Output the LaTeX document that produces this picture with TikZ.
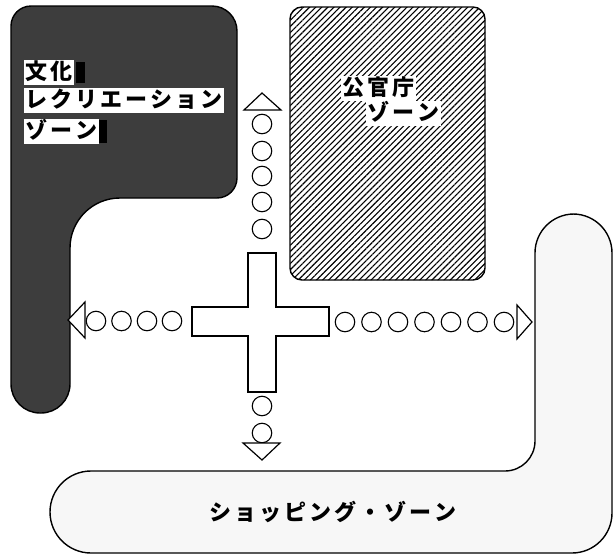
\documentclass[tikz,border=0pt]{standalone}
\usepackage{fontspec}
\newfontfamily\jp{Noto Sans CJK JP}
\usetikzlibrary{patterns.meta}
\newdimen\spk
\spk=3pt
\def\spc#1{\spaux#1\relax\unkern}
\def\spaux#1{\ifx#1\relax\else#1\kern\spk\expandafter\spaux\fi}
\tikzset{
  outl/.style={draw=black,line width=1.4pt},
  ring/.style={circle,draw=black,line width=1.1pt,minimum size=19.5pt,inner sep=0pt},
  tri/.style={draw=black,line width=1.2pt,fill=white,line join=miter},
  jpfont/.style={font=\jp\bfseries\fontsize{22}{22}\selectfont},
  lab/.style={jpfont,fill=white,inner xsep=1.5pt,inner ysep=1.5pt,text height=18pt,text depth=4pt,anchor=west},
}
\begin{document}
\begin{tikzpicture}[x=1pt,y=-1pt]
\useasboundingbox (0,0) rectangle (614,560);
% shopping zone
\path[outl,fill=black!3] (300,553) [rounded corners=41] -- (50,553) [rounded corners=41] -- (50,471) [rounded corners=30] -- (535,471) [rounded corners=39] -- (535,214) [rounded corners=39] -- (612,214) [rounded corners=40] -- (612,553) [sharp corners] -- cycle;
\node[jpfont] (shop) at (333,512) {\spc{ショッピング・ゾーン}};
% culture zone
\path[outl,fill=black!76] (120,6) [rounded corners=20] -- (11,6) [rounded corners=29] -- (11,413) [rounded corners=29] -- (70,413) [rounded corners=50] -- (70,198) [rounded corners=20] -- (237,198) [rounded corners=25] -- (237,6) [sharp corners] -- cycle;
\fill[black] (76,62) rectangle (85,83);
\fill[black] (97,120) rectangle (107,143);
\node[lab] (c1) at (24,72.5) {\spc{文化}};
\node[lab] (c2) at (24,100.5) {\spc{レクリエーション}};
\node[lab] (c3) at (24,131.5) {\spc{ゾーン}};
% government zone
\path[outl,rounded corners=12,pattern={Lines[angle=45,distance=4.3pt,line width=1.1pt]}] (290,7) rectangle (485,280);
\node[lab] (g1) at (341,88) {\spc{公官庁}};
\node[lab] (g2) at (366,113) {\spc{ゾーン}};
% cross
\path[outl,fill=white,line width=1.3pt] (248,253) -- (276,253) -- (276,307) -- (329,307) -- (329,336) -- (276,336) -- (276,392) -- (248,392) -- (248,336) -- (192,336) -- (192,307) -- (248,307) -- cycle;
% top
\foreach \y [count=\i] in {124,151,176,202,229} \node[ring] (u\i) at (262,\y) {};
\path[tri] (262,93) -- (281,110) -- (244,110) -- cycle;
% bottom
\foreach \y [count=\i] in {406,433} \node[ring] (d\i) at (262,\y) {};
\path[tri] (262,460) -- (243,443) -- (280,443) -- cycle;
% left
\foreach \x [count=\i] in {96,121.5,147,172} \node[ring] (l\i) at (\x,321) {};
\path[tri] (68,320) -- (85,302) -- (85,338) -- cycle;
% right
\foreach \x [count=\i] in {345,371.5,398,424.5,451,477.5,504} \node[ring] (r\i) at (\x,322) {};
\path[tri] (532,322) -- (517,305) -- (517,339) -- cycle;
\end{tikzpicture}
\end{document}
